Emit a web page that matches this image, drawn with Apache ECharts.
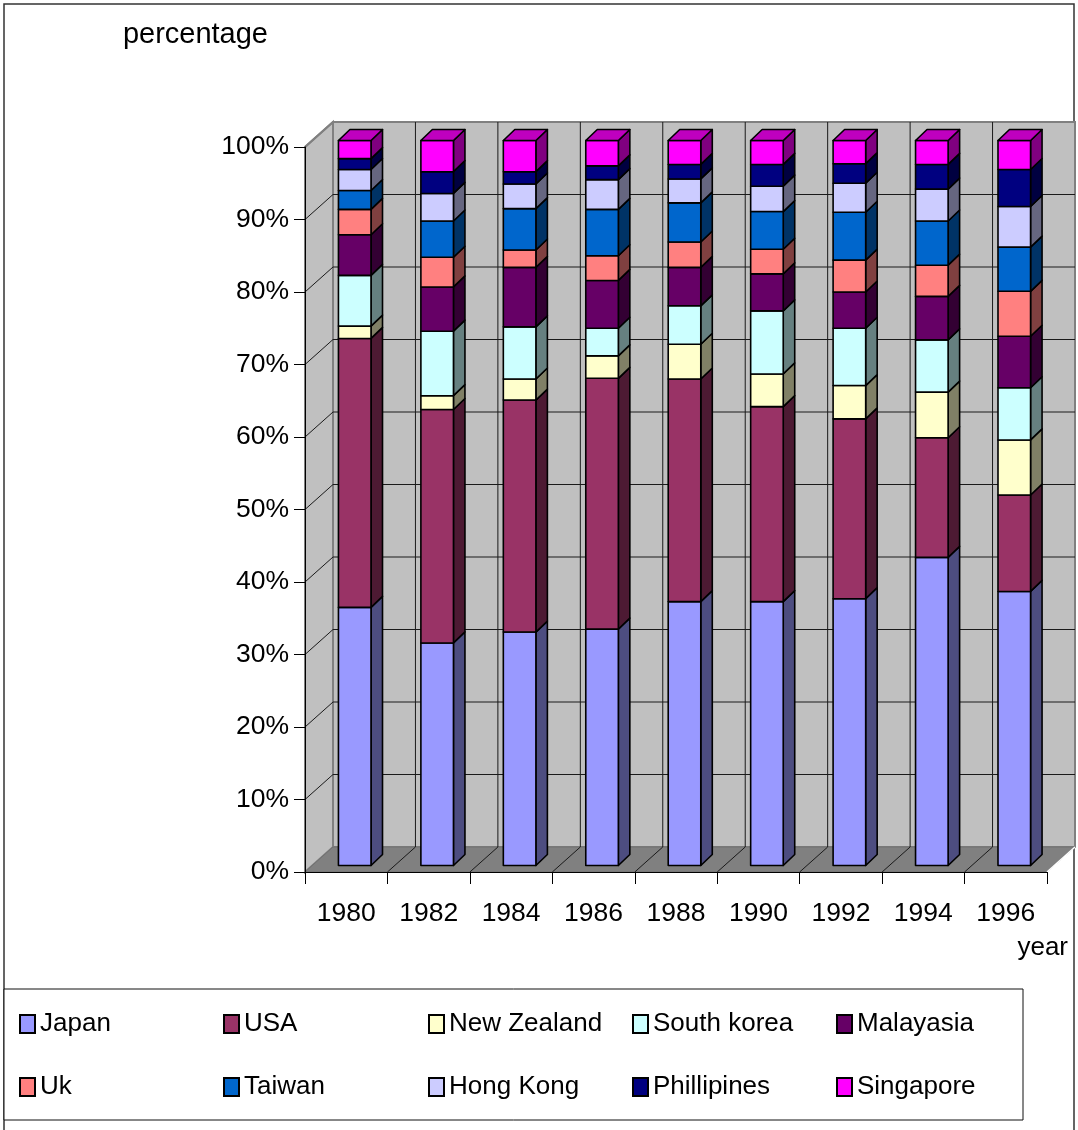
<!DOCTYPE html>
<html>
<head>
<meta charset="utf-8">
<script src="https://cdn.jsdelivr.net/npm/echarts@6/dist/echarts.min.js"></script>
<style>
  html, body { margin: 0; padding: 0; background: #ffffff; }
  #chart { width: 1078px; height: 1130px; }
</style>
</head>
<body>
<div id="chart"></div>
<script>
// Share of visitor arrivals by country of origin, per year (percent of the year's total)
const years = ['1980', '1982', '1984', '1986', '1988', '1990', '1992', '1994', '1996'];

const japan       = [35.6, 30.7, 32.2, 32.6, 36.4, 36.4, 36.8, 42.5, 37.8];
const usa         = [37.1, 32.2, 32.0, 34.6, 30.7, 26.9, 24.8, 16.5, 13.3];
const newZealand  = [1.7, 1.9, 2.9, 3.1, 4.8, 4.5, 4.6, 6.3, 7.6];
const southKorea  = [7.0, 8.9, 7.2, 3.8, 5.3, 8.7, 7.9, 7.2, 7.2];
const malaysia    = [5.6, 6.1, 8.2, 6.6, 5.3, 5.1, 5.0, 6.0, 7.1];
const uk          = [3.5, 4.1, 2.4, 3.4, 3.5, 3.4, 4.4, 4.3, 6.2];
const taiwan      = [2.6, 5.0, 5.7, 6.4, 5.4, 5.2, 6.6, 6.1, 6.1];
const hongKong    = [2.9, 3.8, 3.4, 4.1, 3.3, 3.5, 4.0, 4.4, 5.6];
const philippines = [1.5, 3.0, 1.7, 1.9, 2.0, 3.0, 2.7, 3.4, 5.1];
const singapore   = [2.5, 4.3, 4.3, 3.5, 3.3, 3.3, 3.2, 3.3, 4.0];

const countryNames = ['Japan', 'USA', 'New Zealand', 'South korea', 'Malayasia',
                      'Uk', 'Taiwan', 'Hong Kong', 'Phillipines', 'Singapore'];
const countryShares = [japan, usa, newZealand, southKorea, malaysia,
                       uk, taiwan, hongKong, philippines, singapore];

// Value axis: 0%..100% in steps of 10
const percentMin = 0;
const percentMax = 100;
const percentStep = 10;

// ---- styling -------------------------------------------------------------
const FONT = '"Liberation Sans", Arial, Helvetica, sans-serif';
const faceColors = ['#9999FF', '#993366', '#FFFFCC', '#CCFFFF', '#660066',
                    '#FF8080', '#0066CC', '#CCCCFF', '#000080', '#FF00FF'];

const WALL_DEPTH = [28, -25];   // receding offset of the chart box (px)
const BAR_OFFSET = [8.5, -6.5]; // bar front face, relative to the axis plane
const BAR_DEPTH = [11.5, -11];  // depth of each bar column
const BAR_FRACTION = 0.395;     // bar width as a share of the category band

function shade(hex, k) {
  const n = parseInt(hex.slice(1), 16);
  const r = Math.round(((n >> 16) & 255) * k);
  const g = Math.round(((n >> 8) & 255) * k);
  const b = Math.round((n & 255) * k);
  return 'rgb(' + r + ',' + g + ',' + b + ')';
}

// Back wall, side wall, floor and their grid lines
function renderWalls(params, api) {
  const n = years.length;
  const band = api.size([1, 0])[0];
  const xStart = api.coord([0, percentMin])[0] - band / 2;
  const xEnd = xStart + band * n;
  const yAt = v => api.coord([0, v])[1];
  const [dx, dy] = WALL_DEPTH;
  const y0 = yAt(percentMin);
  const yTop = yAt(percentMax);
  const wallFill = '#C0C0C0';
  const edge = { stroke: '#808080', lineWidth: 2 };
  const grid = { stroke: '#1a1a1a', lineWidth: 1 };
  const children = [];

  children.push({
    type: 'polygon',
    shape: { points: [[xStart, y0], [xStart, yTop], [xStart + dx, yTop + dy], [xStart + dx, y0 + dy]] },
    style: Object.assign({ fill: wallFill }, edge)
  });
  children.push({
    type: 'rect',
    shape: { x: xStart + dx, y: yTop + dy, width: xEnd - xStart, height: y0 - yTop },
    style: Object.assign({ fill: wallFill }, edge)
  });
  children.push({
    type: 'polygon',
    shape: { points: [[xStart, y0], [xEnd, y0], [xEnd + dx, y0 + dy], [xStart + dx, y0 + dy]] },
    style: { fill: '#808080', stroke: '#707070', lineWidth: 1 }
  });

  for (let v = percentMin + percentStep; v < percentMax; v += percentStep) {
    const y = yAt(v);
    children.push({
      type: 'line',
      shape: { x1: xStart + dx, y1: y + dy, x2: xEnd + dx, y2: y + dy },
      style: grid
    });
    children.push({
      type: 'line',
      shape: { x1: xStart, y1: y, x2: xStart + dx, y2: y + dy },
      style: grid
    });
  }
  for (let k = 1; k < n; k++) {
    const x = xStart + band * k;
    children.push({
      type: 'line',
      shape: { x1: x + dx, y1: yTop + dy, x2: x + dx, y2: y0 + dy },
      style: grid
    });
    children.push({
      type: 'line',
      shape: { x1: x, y1: y0, x2: x + dx, y2: y0 + dy },
      style: grid
    });
  }
  children.push({
    type: 'line',
    shape: { x1: xStart, y1: yTop, x2: xStart + dx, y2: yTop + dy },
    style: edge
  });
  children.push({
    type: 'line',
    shape: { x1: xEnd, y1: y0, x2: xEnd + dx, y2: y0 + dy },
    style: { stroke: '#ffffff', lineWidth: 1.5 }
  });
  return { type: 'group', children: children };
}

// One stacked block of a 3D column: front, right side and (on top) the lid
function makeSegmentRenderer(color) {
  const side = shade(color, 0.5);
  const lid = shade(color, 0.75);
  return function (params, api) {
    const cat = api.value(0);
    const lo = api.value(1);
    const hi = api.value(2);
    const band = api.size([1, 0])[0];
    const w = band * BAR_FRACTION;
    const pLo = api.coord([cat, lo]);
    const pHi = api.coord([cat, hi]);
    const cx = pLo[0] + BAR_OFFSET[0];
    const xL = cx - w / 2;
    const xR = cx + w / 2;
    const yB = pLo[1] + BAR_OFFSET[1];
    const yT = pHi[1] + BAR_OFFSET[1];
    const [dx, dy] = BAR_DEPTH;
    const line = { stroke: '#000000', lineWidth: 1.6, lineJoin: 'round' };
    const children = [
      {
        type: 'polygon',
        shape: { points: [[xR, yB], [xR, yT], [xR + dx, yT + dy], [xR + dx, yB + dy]] },
        style: Object.assign({ fill: side }, line)
      },
      {
        type: 'rect',
        shape: { x: xL, y: yT, width: w, height: yB - yT },
        style: Object.assign({ fill: color }, line)
      }
    ];
    if (hi >= percentMax - 0.01) {
      children.push({
        type: 'polygon',
        shape: { points: [[xL, yT], [xR, yT], [xR + dx, yT + dy], [xL + dx, yT + dy]] },
        style: Object.assign({ fill: lid }, line)
      });
    }
    return { type: 'group', children: children };
  };
}

// Stack the shares of each year, scaled to 100%
const yearTotals = years.map((_, i) => countryShares.reduce((s, arr) => s + arr[i], 0));
const runningBase = years.map(() => 0);
const barSeries = countryNames.map((name, c) => {
  const data = years.map((_, i) => {
    const lo = runningBase[i];
    const hi = lo + countryShares[c][i] / yearTotals[i] * percentMax;
    runningBase[i] = hi;
    return [i, lo, hi];
  });
  return {
    name: name,
    type: 'custom',
    coordinateSystem: 'cartesian2d',
    z: 3,
    itemStyle: { color: faceColors[c] },
    encode: { x: 0, y: [1, 2] },
    renderItem: makeSegmentRenderer(faceColors[c]),
    data: data
  };
});

const wallSeries = {
  name: 'walls',
  type: 'custom',
  coordinateSystem: 'cartesian2d',
  z: 1,
  silent: true,
  renderItem: renderWalls,
  encode: { x: 0, y: 1 },
  data: [[0, 0]]
};

const legendColumns = [19, 223, 428, 632, 836];
const legendRows = [1011, 1074];
const legends = countryNames.map((name, i) => ({
  data: [name],
  left: legendColumns[i % 5],
  top: legendRows[Math.floor(i / 5)],
  padding: 0,
  icon: 'rect',
  itemWidth: 15,
  itemHeight: 18,
  selectedMode: false,
  itemStyle: { borderColor: '#000000', borderWidth: 2 },
  textStyle: { fontSize: 26, color: '#000000', fontFamily: FONT }
}));

const chart = echarts.init(document.getElementById('chart'), null, { renderer: 'canvas' });
chart.setOption({
  backgroundColor: '#ffffff',
  animation: false,
  textStyle: { fontFamily: FONT },
  grid: { left: 305, right: 31, top: 147, bottom: 258, containLabel: false },
  graphic: [
    {
      type: 'rect', silent: true, z: -1,
      shape: { x: 4, y: 4, width: 1070, height: 1140 },
      style: { fill: 'none', stroke: '#333333', lineWidth: 1.5 }
    },
    {
      type: 'rect', silent: true, z: -1,
      shape: { x: 4, y: 989, width: 1019, height: 131 },
      style: { fill: '#ffffff', stroke: '#111111', lineWidth: 1 }
    }
  ],
  legend: legends,
  xAxis: {
    type: 'category',
    data: years,
    z: 10,
    boundaryGap: true,
    name: 'year',
    nameLocation: 'end',
    nameGap: 21,
    nameTextStyle: { fontSize: 26, color: '#000000', align: 'right', verticalAlign: 'top', padding: [63, 0, 0, 0] },
    axisLine: { show: true, lineStyle: { color: '#000000', width: 1 } },
    axisTick: { show: true, alignWithLabel: false, length: 12, lineStyle: { color: '#000000' } },
    axisLabel: { fontSize: 26.5, color: '#000000', margin: 28 },
    splitLine: { show: false }
  },
  yAxis: {
    type: 'value',
    min: percentMin,
    max: percentMax,
    interval: percentStep,
    z: 10,
    name: 'percentage',
    nameLocation: 'end',
    nameGap: 112,
    nameTextStyle: { fontSize: 29, color: '#000000', align: 'right', verticalAlign: 'middle', padding: [0, 37, 0, 0] },
    axisLine: { show: true, lineStyle: { color: '#000000', width: 1 } },
    axisTick: { show: true, length: 11, lineStyle: { color: '#000000' } },
    axisLabel: { fontSize: 26.5, color: '#000000', margin: 16, formatter: '{value}%' },
    splitLine: { show: false }
  },
  series: [wallSeries].concat(barSeries)
});
</script>
</body>
</html>
